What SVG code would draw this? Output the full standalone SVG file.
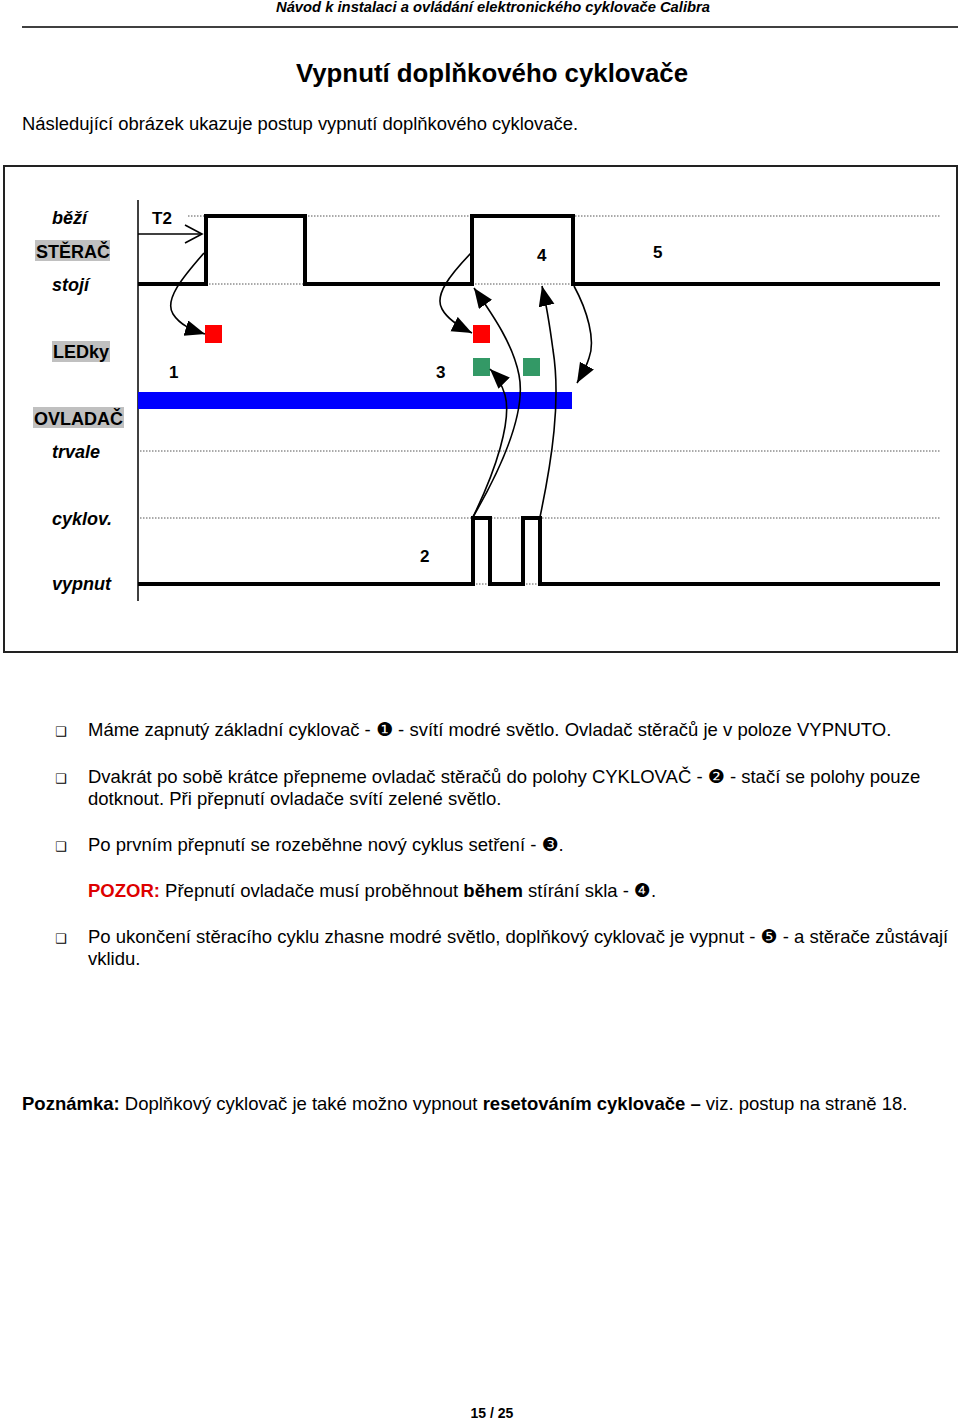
<svg xmlns="http://www.w3.org/2000/svg" width="960" height="1421" viewBox="0 0 960 1421">
<style>
text{font-family:"Liberation Sans",Arial,sans-serif;fill:#000}
.lbl{font-size:18px;font-weight:bold}
.it{font-style:italic}
.num{font-size:17px;font-weight:bold}
.body{font-size:18.5px}
.dg{font-family:"DejaVu Sans",sans-serif;font-size:19px}
.hl{fill:#c0c0c0}
.sig{fill:none;stroke:#000;stroke-width:4;stroke-linejoin:miter}
.dot{fill:none;stroke:#555;stroke-width:1;stroke-dasharray:1.5 1.5}
.con{fill:none;stroke:#000;stroke-width:1.6}
.bul{font-family:"DejaVu Sans",sans-serif;font-size:13px}
</style>
<defs>
<marker id="ah" markerUnits="userSpaceOnUse" markerWidth="22" markerHeight="18" refX="20" refY="8" orient="auto">
<path d="M0,0 L20,8 L0,16 z" fill="#000"/>
</marker>
</defs>
<rect width="960" height="1421" fill="#fff"/>
<g id="header">
<text x="493" y="12" text-anchor="middle" font-size="14" font-weight="bold" font-style="italic" textLength="434" lengthAdjust="spacingAndGlyphs">Návod k instalaci a ovládání elektronického cyklovače Calibra</text>
<line x1="22" y1="27" x2="958" y2="27" stroke="#000" stroke-width="1.5"/>
</g>
<g id="title">
<text x="492" y="82" text-anchor="middle" font-size="25" font-weight="bold" textLength="392" lengthAdjust="spacingAndGlyphs">Vypnutí doplňkového cyklovače</text>
<text x="22" y="130" font-size="18" textLength="556" lengthAdjust="spacingAndGlyphs">Následující obrázek ukazuje postup vypnutí doplňkového cyklovače.</text>
</g>
<g id="diagram">
<rect x="4" y="166" width="953" height="486" fill="none" stroke="#222" stroke-width="2"/>
<line x1="138" y1="200" x2="138" y2="601" stroke="#000" stroke-width="1.5"/>
<g id="labels">
<text class="lbl it" x="52" y="224">běží</text>
<rect class="hl" x="35" y="240" width="75" height="21"/>
<text class="lbl" x="36" y="258">STĚRAČ</text>
<text class="lbl it" x="52" y="291">stojí</text>
<rect class="hl" x="52" y="341" width="58" height="21"/>
<text class="lbl" x="53" y="358">LEDky</text>
<rect class="hl" x="33" y="407" width="91" height="21"/>
<text class="lbl" x="34" y="425">OVLADAČ</text>
<text class="lbl it" x="52" y="458">trvale</text>
<text class="lbl it" x="52" y="525">cyklov.</text>
<text class="lbl it" x="52" y="590">vypnut</text>
</g>
<g id="grid">
<line class="dot" x1="188" y1="216" x2="940" y2="216"/>
<line class="dot" x1="206" y1="284" x2="305" y2="284"/>
<line class="dot" x1="472" y1="284" x2="573" y2="284"/>
<line class="dot" x1="140" y1="451" x2="940" y2="451"/>
<line class="dot" x1="140" y1="518" x2="940" y2="518"/>
<line class="dot" x1="473" y1="584" x2="490" y2="584"/>
<line class="dot" x1="523" y1="584" x2="540" y2="584"/>
</g>
<g id="sterac-signal">
<path class="sig" d="M138,284 H206 V216 H305 V284 H472 V216 H573 V284 H940"/>
</g>
<g id="ovladac-signal">
<path class="sig" d="M138,584 H473 V518 H490 V584 H523 V518 H540 V584 H940"/>
</g>
<g id="blue-bar">
<rect x="138" y="392" width="434" height="17" fill="#0000ff"/>
</g>
<g id="leds">
<rect x="205" y="325" width="17" height="18" fill="#ff0000"/>
<rect x="473" y="325" width="17" height="18" fill="#ff0000"/>
<rect x="473" y="358" width="17" height="18" fill="#339966"/>
<rect x="523" y="358" width="17" height="18" fill="#339966"/>
</g>
<g id="markers-text">
<text class="num" x="152" y="224">T2</text>
<text class="num" x="169" y="378">1</text>
<text class="num" x="420" y="562">2</text>
<text class="num" x="436" y="378">3</text>
<text class="num" x="537" y="261">4</text>
<text class="num" x="653" y="258">5</text>
</g>
<g id="connectors">
<line class="con" x1="138" y1="234" x2="202" y2="234"/>
<polyline class="con" points="185,225 202,234 185,243"/>
<path class="con" marker-end="url(#ah)" d="M204,253 C182,278 164,300 173,314 C180,325 192,330 205,334"/>
<path class="con" marker-end="url(#ah)" d="M471,253 C450,275 434,295 442,309 C448,320 460,327 472,333"/>
<path class="con" marker-end="url(#ah)" d="M473,517 C496,470 512,420 505,395 C502,385 498,377 490,369"/>
<path class="con" marker-end="url(#ah)" d="M473,517 C506,460 526,410 519,375 C513,345 495,318 474,288"/>
<path class="con" marker-end="url(#ah)" d="M540,517 C552,460 561,400 553,350 C549,320 546,303 542,286"/>
<path class="con" marker-end="url(#ah)" d="M574,286 C587,310 596,340 589,358 C586,368 581,376 577,383"/>
</g>
</g>
<g id="bullets">
<text class="bul" x="55" y="736">❑</text>
<text class="body" x="88" y="736">Máme zapnutý základní cyklovač - <tspan class="dg">❶</tspan> - svítí modré světlo. Ovladač stěračů je v poloze VYPNUTO.</text>
<text class="bul" x="55" y="783">❑</text>
<text class="body" x="88" y="783">Dvakrát po sobě krátce přepneme ovladač stěračů do polohy CYKLOVAČ - <tspan class="dg">❷</tspan> - stačí se polohy pouze</text>
<text class="body" x="88" y="805">dotknout. Při přepnutí ovladače svítí zelené světlo.</text>
<text class="bul" x="55" y="851">❑</text>
<text class="body" x="88" y="851">Po prvním přepnutí se rozeběhne nový cyklus setření - <tspan class="dg">❸</tspan>.</text>
<text class="body" x="88" y="897"><tspan fill="#dd0000" font-weight="bold">POZOR:</tspan> Přepnutí ovladače musí proběhnout <tspan font-weight="bold">během</tspan> stírání skla - <tspan class="dg">❹</tspan>.</text>
<text class="bul" x="55" y="943">❑</text>
<text class="body" x="88" y="943">Po ukončení stěracího cyklu zhasne modré světlo, doplňkový cyklovač je vypnut - <tspan class="dg">❺</tspan> - a stěrače zůstávají</text>
<text class="body" x="88" y="965">vklidu.</text>
</g>
<g id="note">
<text class="body" x="22" y="1110"><tspan font-weight="bold">Poznámka:</tspan> Doplňkový cyklovač je také možno vypnout <tspan font-weight="bold">resetováním cyklovače –</tspan> viz. postup na straně 18.</text>
</g>
<g id="footer">
<text x="492" y="1418" text-anchor="middle" font-size="14" font-weight="bold">15 / 25</text>
</g>
</svg>
